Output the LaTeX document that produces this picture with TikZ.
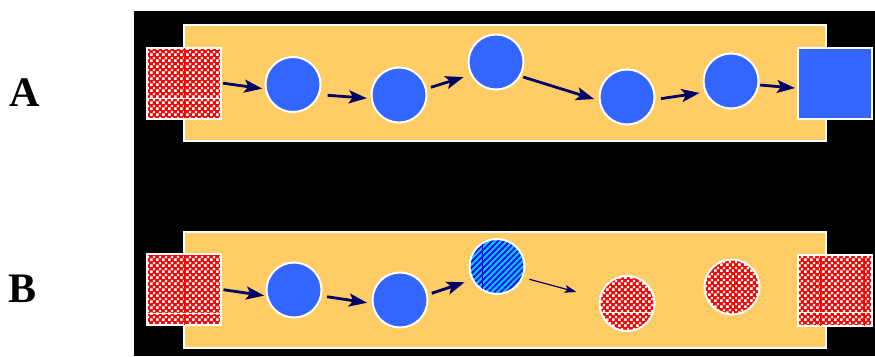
\documentclass[tikz,border=0pt]{standalone}
\usepackage{fontspec}
\setmainfont{Liberation Serif}
\usetikzlibrary{arrows.meta,patterns,patterns.meta}
\definecolor{panelorange}{HTML}{FFCC66}
\definecolor{ballblue}{HTML}{3366FF}
\definecolor{arrownavy}{HTML}{000066}
\definecolor{stripeblue}{HTML}{1010F0}
\definecolor{stripecyan}{HTML}{00CCFF}
\definecolor{checkred}{HTML}{FF0000}
\pgfdeclarepatternformonly{whitechecks}{\pgfpointorigin}{\pgfqpoint{6pt}{6pt}}{\pgfqpoint{6pt}{6pt}}{%
  \pgfpathrectangle{\pgfqpoint{0.2pt}{0.2pt}}{\pgfqpoint{2.7pt}{2.7pt}}%
  \pgfpathrectangle{\pgfqpoint{3.2pt}{3.2pt}}{\pgfqpoint{2.7pt}{2.7pt}}%
  \pgfusepath{fill}}
\tikzset{
  panel/.style={fill=panelorange, draw=white, line width=2pt},
  ball/.style={circle, minimum size=55pt, inner sep=0pt, draw=white, line width=2pt, fill=ballblue},
  redball/.style={circle, minimum size=55pt, inner sep=0pt, draw=white, line width=2pt,
    preaction={fill=checkred}, pattern=whitechecks, pattern color=white},
  stripeball/.style={circle, minimum size=55pt, inner sep=0pt, draw=white, line width=2pt,
    preaction={fill=stripeblue}, pattern={Lines[angle=45,distance=4.2pt,line width=2pt]}, pattern color=stripecyan},
  redsq/.style={rectangle, minimum width=74pt, minimum height=71pt, inner sep=0pt, draw=white, line width=2pt,
    preaction={fill=checkred}, pattern=whitechecks, pattern color=white},
  bluesq/.style={rectangle, minimum width=74pt, minimum height=71pt, inner sep=0pt, draw=white, line width=2pt, fill=ballblue},
  flow/.style={draw=arrownavy, line width=2.8pt, -{Stealth[length=18pt,width=13pt,inset=4pt]}},
  thinflow/.style={draw=arrownavy, line width=1.2pt, -{Stealth[length=12pt,width=8pt,inset=3pt]}},
  seamred/.style={draw=checkred, line width=1pt},
  seamwhite/.style={draw=white, line width=0.6pt},
  seamblue/.style={draw=stripeblue!80!black, line width=1pt},
  letter/.style={font=\fontsize{42}{42}\selectfont\bfseries, anchor=base, inner sep=0pt}
}
\begin{document}
\begin{tikzpicture}[x=1pt,y=-1pt]
\useasboundingbox (0,0) rectangle (875,356);
\fill[black] (134,11) rectangle (875,356);
\draw[panel] (184,24.5) rectangle (826,141);
\draw[panel] (184,231.5) rectangle (826,347.5);

\node[letter] (labA) at (24.3,106.7) {A};
\node[letter] (labB) at (23,302.3) {B};

% Row A
\node[redsq] (sqA1) at (183.5,83) {};
\node[ball] (a1) at (293,84.5) {};
\node[ball] (a2) at (399,95) {};
\node[ball] (a3) at (496,62) {};
\node[ball] (a4) at (627,97) {};
\node[ball] (a5) at (731,81) {};
\node[bluesq] (sqA2) at (834.5,83.5) {};

\draw[seamred] ([xshift=1pt,yshift=-1.5pt]sqA1.north) -- ([xshift=1pt,yshift=1.5pt]sqA1.south);
\draw[seamwhite] ([yshift=-15pt]sqA1.west) -- ([yshift=-15pt]sqA1.east);

\draw[flow, shorten <=1.5pt, shorten >=2.6pt] (sqA1.east) -- (a1.189);
\draw[flow, shorten <=8pt, shorten >=3.8pt] (a1.-21) -- (a2.187);
\draw[flow, shorten <=4.3pt, shorten >=7.4pt] (a2.13) -- (a3.207);
\draw[flow, shorten <=2.6pt, shorten >=4.7pt] (a3.-30) -- (a4.187);
\draw[flow, shorten <=5.6pt, shorten >=5.2pt] (a4.-5) -- (a5.203);
\draw[flow, shorten <=1pt, shorten >=1.5pt] (a5.-8) -- (sqA2.187);

% Row B
\node[redsq] (sqB1) at (184,289.5) {};
\node[ball] (b1) at (294,290) {};
\node[ball] (b2) at (400,300) {};
\node[stripeball] (b3) at (497,266.5) {};
\node[redball] (b4) at (627,303.5) {};
\node[redball] (b5) at (732,287) {};
\node[redsq] (sqB2) at (835,290.5) {};

\draw[seamred] ([xshift=0.3pt,yshift=-1.5pt]sqB1.north) -- ([xshift=0.3pt,yshift=1.5pt]sqB1.south);
\draw[seamwhite] ([yshift=-24pt]sqB1.west) -- ([yshift=-24pt]sqB1.east);
\draw[seamred] ([xshift=-14.3pt,yshift=-1.5pt]sqB2.north) -- ([xshift=-14.3pt,yshift=1.5pt]sqB2.south);
\draw[seamred] ([xshift=29pt,yshift=-1.5pt]sqB2.north) -- ([xshift=29pt,yshift=1.5pt]sqB2.south);
\draw[seamwhite] ([yshift=-22pt]sqB2.west) -- ([yshift=-22pt]sqB2.east);
\begin{scope}
  \clip (b3.center) circle[radius=26.5];
  \draw[seamblue] ([xshift=-14.7pt]b3.north) -- ([xshift=-14.7pt]b3.south);
\end{scope}
\begin{scope}
  \clip (b4.center) circle[radius=26.5];
  \draw[seamwhite] ([yshift=-9pt]b4.west) -- ([yshift=-9pt]b4.east);
\end{scope}
\begin{scope}
  \clip (b5.center) circle[radius=26.5];
  \draw[seamred] ([xshift=2.3pt]b5.north) -- ([xshift=2.3pt]b5.south);
\end{scope}

\draw[flow, shorten <=1.5pt, shorten >=2pt] (sqB1.east) -- (b1.192);
\draw[flow, shorten <=5.3pt, shorten >=4.7pt] (b1.-12) -- (b2.187);
\draw[flow, shorten <=4pt, shorten >=7.6pt] (b2.11) -- (b3.208);
\draw[thinflow, shorten <=6.3pt, shorten >=23.4pt] (b3.-23.5) -- (b4.169);
\end{tikzpicture}
\end{document}
